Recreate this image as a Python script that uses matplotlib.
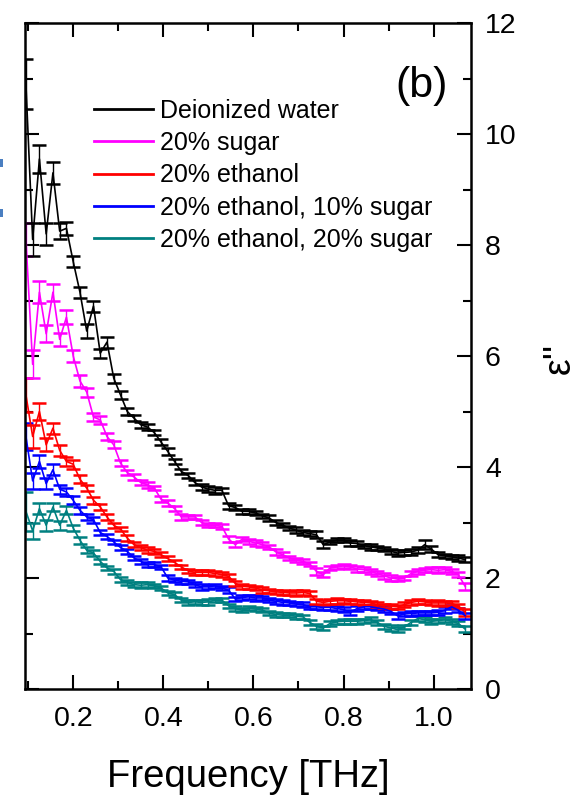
import matplotlib
matplotlib.use("Agg")
import matplotlib.pyplot as plt
from matplotlib.lines import Line2D
from matplotlib.patches import Rectangle
from matplotlib.ticker import MultipleLocator

plt.rcParams["font.family"] = ["Liberation Sans", "DejaVu Sans"]

# frequency grid (THz)
freq = [0.095, 0.110, 0.125, 0.140, 0.155, 0.170, 0.185, 0.200, 0.215, 0.230,
        0.245, 0.260, 0.275, 0.290, 0.305, 0.320, 0.335, 0.350, 0.365, 0.380,
        0.395, 0.410, 0.425, 0.440, 0.455, 0.470, 0.485, 0.500, 0.515, 0.530,
        0.545, 0.560, 0.575, 0.590, 0.605, 0.620, 0.635, 0.650, 0.665, 0.680,
        0.695, 0.710, 0.725, 0.740, 0.755, 0.770, 0.785, 0.800, 0.815, 0.830,
        0.845, 0.860, 0.875, 0.890, 0.905, 0.920, 0.935, 0.950, 0.965, 0.980,
        0.995, 1.010, 1.025, 1.040, 1.055, 1.070]

water = [10.9, 8.1, 9.55, 8.2, 9.3, 8.25, 8.3, 7.7, 7.15, 6.45,
         6.9, 6.05, 6.25, 5.6, 5.3, 5.0, 4.88, 4.76, 4.72, 4.62,
         4.45, 4.28, 4.1, 3.92, 3.85, 3.72, 3.64, 3.6, 3.58, 3.58,
         3.3, 3.27, 3.2, 3.2, 3.17, 3.12, 3.08, 3.0, 2.95, 2.9,
         2.86, 2.82, 2.8, 2.78, 2.6, 2.65, 2.68, 2.68, 2.63, 2.62,
         2.58, 2.56, 2.54, 2.52, 2.48, 2.45, 2.46, 2.47, 2.5, 2.6,
         2.52, 2.42, 2.4, 2.38, 2.36, 2.33]
water_err = [0.45, 0.3, 0.25, 0.2, 0.2, 0.15, 0.12, 0.1, 0.1, 0.12,
             0.1, 0.08, 0.1, 0.08, 0.07, 0.06, 0.06, 0.05, 0.06, 0.05,
             0.05, 0.06, 0.05, 0.05, 0.04, 0.05, 0.05, 0.05, 0.06, 0.05,
             0.06, 0.05, 0.05, 0.05, 0.04, 0.04, 0.05, 0.05, 0.04, 0.04,
             0.05, 0.04, 0.05, 0.06, 0.06, 0.04, 0.04, 0.04, 0.05, 0.04,
             0.04, 0.05, 0.04, 0.04, 0.05, 0.05, 0.04, 0.05, 0.05, 0.08,
             0.05, 0.05, 0.04, 0.04, 0.05, 0.05]

sugar = [8.1, 5.85, 7.15, 6.4, 7.15, 6.3, 6.7, 6.0, 5.55, 5.35,
         4.9, 4.85, 4.55, 4.4, 4.07, 3.9, 3.82, 3.72, 3.68, 3.62,
         3.42, 3.35, 3.25, 3.1, 3.1, 3.1, 3.0, 2.95, 2.95, 2.93,
         2.7, 2.6, 2.7, 2.66, 2.63, 2.6, 2.56, 2.47, 2.42, 2.36,
         2.32, 2.3, 2.25, 2.12, 2.06, 2.18, 2.2, 2.22, 2.2, 2.16,
         2.15, 2.12, 2.08, 2.04, 2.0, 1.98, 2.0, 2.08, 2.12, 2.14,
         2.15, 2.14, 2.15, 2.12, 2.06, 1.85]
sugar_err = [0.3, 0.25, 0.2, 0.15, 0.15, 0.12, 0.12, 0.1, 0.1, 0.08,
             0.08, 0.07, 0.06, 0.06, 0.05, 0.05, 0.05, 0.04, 0.05, 0.04,
             0.05, 0.05, 0.04, 0.05, 0.04, 0.04, 0.05, 0.04, 0.04, 0.05,
             0.06, 0.05, 0.04, 0.04, 0.05, 0.04, 0.04, 0.05, 0.04, 0.04,
             0.04, 0.05, 0.04, 0.06, 0.05, 0.04, 0.04, 0.04, 0.04, 0.05,
             0.04, 0.04, 0.04, 0.05, 0.05, 0.04, 0.04, 0.05, 0.05, 0.04,
             0.04, 0.05, 0.04, 0.04, 0.04, 0.06]

ethanol = [5.3, 4.55, 5.0, 4.4, 4.7, 4.3, 4.1, 4.05, 3.78, 3.62,
           3.4, 3.28, 3.1, 2.95, 2.88, 2.72, 2.6, 2.55, 2.5, 2.48,
           2.42, 2.35, 2.28, 2.2, 2.13, 2.1, 2.1, 2.1, 2.08, 2.06,
           2.03, 1.9, 1.85, 1.84, 1.82, 1.78, 1.77, 1.75, 1.74, 1.73,
           1.73, 1.74, 1.72, 1.58, 1.56, 1.58, 1.59, 1.59, 1.58, 1.57,
           1.56, 1.55, 1.52, 1.5, 1.49, 1.48, 1.52, 1.56, 1.58, 1.57,
           1.55, 1.55, 1.55, 1.54, 1.5, 1.38]
ethanol_err = [0.3, 0.2, 0.15, 0.12, 0.1, 0.1, 0.08, 0.08, 0.07, 0.06,
               0.06, 0.05, 0.05, 0.05, 0.04, 0.05, 0.04, 0.04, 0.05, 0.04,
               0.04, 0.04, 0.05, 0.04, 0.04, 0.04, 0.05, 0.04, 0.04, 0.04,
               0.05, 0.04, 0.04, 0.04, 0.04, 0.05, 0.04, 0.04, 0.04, 0.04,
               0.05, 0.04, 0.04, 0.05, 0.04, 0.04, 0.05, 0.04, 0.04, 0.04,
               0.04, 0.04, 0.05, 0.04, 0.04, 0.04, 0.05, 0.04, 0.04, 0.04,
               0.04, 0.05, 0.04, 0.04, 0.04, 0.06]

eth_sug10 = [4.55, 3.75, 4.1, 3.7, 3.95, 3.6, 3.55, 3.4, 3.22, 3.1,
             3.05, 2.82, 2.75, 2.65, 2.55, 2.48, 2.36, 2.3, 2.24, 2.24,
             2.2, 2.0, 1.96, 1.94, 1.93, 1.88, 1.84, 1.84, 1.86, 1.82,
             1.78, 1.62, 1.65, 1.66, 1.64, 1.64, 1.6, 1.58, 1.56, 1.55,
             1.53, 1.52, 1.48, 1.48, 1.47, 1.47, 1.45, 1.43, 1.38, 1.45,
             1.48, 1.48, 1.46, 1.44, 1.4, 1.32, 1.35, 1.36, 1.37, 1.37,
             1.37, 1.38, 1.42, 1.48, 1.42, 1.32]
eth_sug10_err = [0.25, 0.15, 0.12, 0.1, 0.1, 0.08, 0.08, 0.07, 0.06, 0.06,
                 0.05, 0.05, 0.05, 0.04, 0.05, 0.04, 0.04, 0.04, 0.05, 0.04,
                 0.04, 0.05, 0.04, 0.04, 0.04, 0.04, 0.05, 0.04, 0.04, 0.04,
                 0.05, 0.04, 0.04, 0.04, 0.05, 0.04, 0.04, 0.04, 0.04, 0.04,
                 0.04, 0.05, 0.04, 0.04, 0.04, 0.04, 0.05, 0.04, 0.05, 0.04,
                 0.04, 0.04, 0.04, 0.05, 0.04, 0.05, 0.04, 0.04, 0.04, 0.04,
                 0.04, 0.04, 0.05, 0.04, 0.04, 0.05]

eth_sug20 = [3.2, 2.85, 3.25, 2.95, 3.28, 2.95, 3.22, 2.9, 2.68, 2.5,
             2.45, 2.3, 2.18, 2.12, 1.97, 1.92, 1.88, 1.87, 1.88, 1.86,
             1.82, 1.73, 1.7, 1.6, 1.56, 1.57, 1.56, 1.57, 1.6, 1.6,
             1.5, 1.45, 1.42, 1.46, 1.44, 1.42, 1.37, 1.34, 1.33, 1.33,
             1.31, 1.3, 1.2, 1.13, 1.1, 1.18, 1.21, 1.22, 1.22, 1.22,
             1.23, 1.25, 1.2, 1.13, 1.1, 1.07, 1.12, 1.2, 1.27, 1.25,
             1.22, 1.23, 1.25, 1.22, 1.18, 1.08]
eth_sug20_err = [0.35, 0.15, 0.1, 0.1, 0.08, 0.08, 0.07, 0.06, 0.06, 0.05,
                 0.05, 0.05, 0.04, 0.05, 0.04, 0.04, 0.04, 0.05, 0.04, 0.04,
                 0.04, 0.04, 0.05, 0.04, 0.04, 0.04, 0.04, 0.05, 0.04, 0.04,
                 0.04, 0.05, 0.04, 0.04, 0.04, 0.04, 0.04, 0.05, 0.04, 0.04,
                 0.04, 0.04, 0.04, 0.05, 0.04, 0.04, 0.04, 0.04, 0.05, 0.04,
                 0.04, 0.04, 0.04, 0.04, 0.05, 0.04, 0.04, 0.04, 0.05, 0.04,
                 0.04, 0.04, 0.04, 0.05, 0.04, 0.05]

labels = ["Deionized water", "20% sugar", "20% ethanol",
          "20% ethanol, 10% sugar", "20% ethanol, 20% sugar"]
colors = ["#000000", "#ff00ff", "#ff0000", "#0000ff", "#008080"]
series = [(water, water_err), (sugar, sugar_err), (ethanol, ethanol_err),
          (eth_sug10, eth_sug10_err), (eth_sug20, eth_sug20_err)]

fig = plt.figure(figsize=(5.86, 7.99), dpi=100)
ax = fig.add_axes([25 / 586, 1 - 689 / 799, 446 / 586, 666 / 799])

for (vals, err), c in zip(series[::-1], colors[::-1]):
    ax.errorbar(freq, vals, yerr=err, color=c, lw=1.2, elinewidth=1.0,
                capsize=5, capthick=1.8)

ax.set_xlim(0.093, 1.083)
ax.set_ylim(0, 12)
ax.xaxis.set_major_locator(MultipleLocator(0.2))
ax.xaxis.set_minor_locator(MultipleLocator(0.1))
ax.yaxis.set_major_locator(MultipleLocator(2))
ax.yaxis.set_minor_locator(MultipleLocator(1))
ax.set_xticks([0.2, 0.4, 0.6, 0.8, 1.0])
ax.set_xticklabels(["0.2", "0.4", "0.6", "0.8", "1.0"])

ax.tick_params(which="both", direction="in", top=True, bottom=True,
               left=True, right=True, labelleft=False, labelright=True,
               width=1.5, labelsize=20.5)
ax.tick_params(which="major", length=10)
ax.tick_params(which="minor", length=6)
ax.tick_params(axis="y", pad=10)
ax.tick_params(axis="x", pad=12)
for sp in ax.spines.values():
    sp.set_linewidth(1.8)

ax.set_xlabel("Frequency [THz]", fontsize=27.5, labelpad=20)
fig.text(560 / 586, 1 - 358 / 799, "ε''", rotation=90, fontsize=27,
         ha="center", va="center")
ax.text(0.89, 0.905, "(b)", transform=ax.transAxes, fontsize=31,
        ha="center", va="center")

handles = [Line2D([], [], color=c, lw=2) for c in colors]
ax.legend(handles, labels, loc="upper left", bbox_to_anchor=(0.155, 0.886),
          frameon=False, fontsize=18, handlelength=2.35, handletextpad=0.3,
          labelspacing=0.33, borderpad=0, borderaxespad=0)

# small blue marks at the left edge of the scan
for yy in (163, 213):
    fig.add_artist(Rectangle((0, 1 - (yy + 4) / 799), 3 / 586, 8 / 799,
                             transform=fig.transFigure, color="#4a7fc1", lw=0))

fig.savefig("out.png", dpi=100)
